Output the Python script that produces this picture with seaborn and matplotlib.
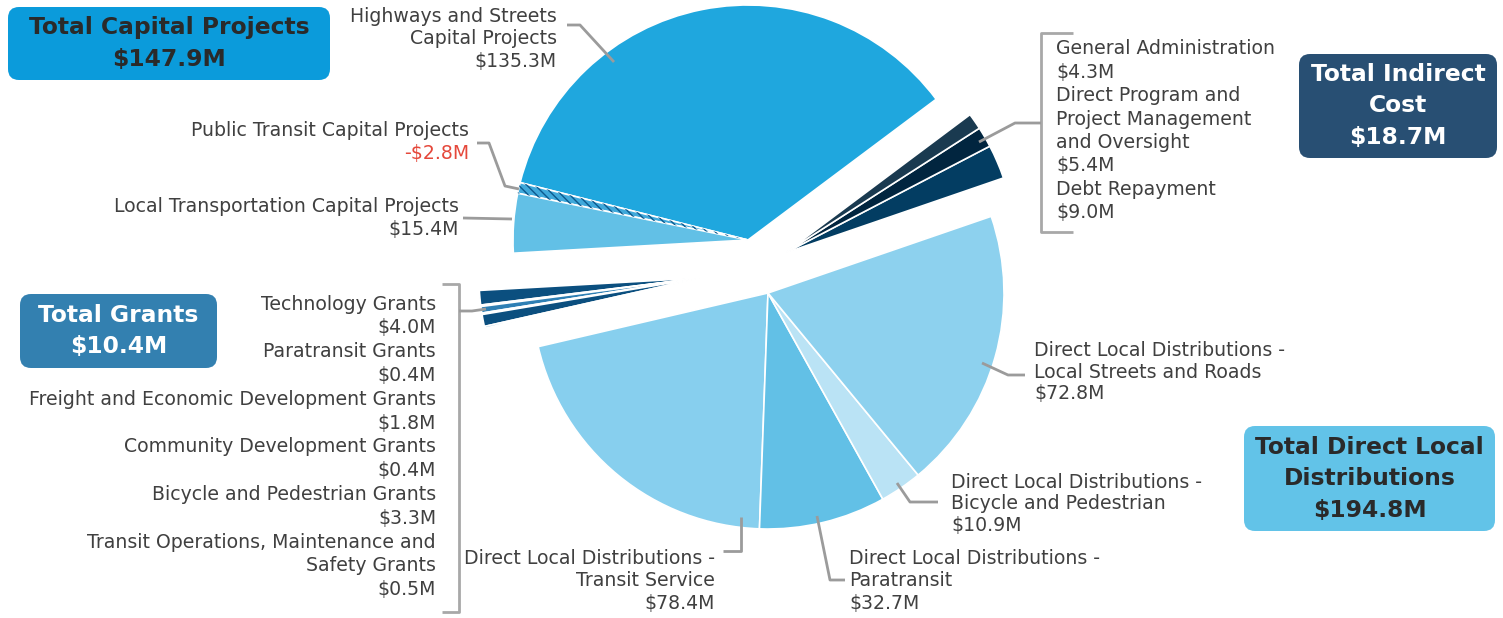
import numpy as np
import matplotlib
matplotlib.use("Agg")
import matplotlib.pyplot as plt
from matplotlib.patches import FancyBboxPatch, Wedge
import seaborn as sns

# ---------------- data ----------------
capital_names = ["Highways and Streets\nCapital Projects",
                 "Public Transit Capital Projects",
                 "Local Transportation Capital Projects"]
capital_values = [135.3, -2.8, 15.4]

grant_names = ["Technology Grants", "Paratransit Grants",
               "Freight and Economic Development Grants",
               "Community Development Grants",
               "Bicycle and Pedestrian Grants",
               "Transit Operations, Maintenance and\nSafety Grants"]
grant_values = [4.0, 0.4, 1.8, 0.4, 3.3, 0.5]

dld_names = ["Direct Local Distributions -\nTransit Service",
             "Direct Local Distributions -\nParatransit",
             "Direct Local Distributions -\nBicycle and Pedestrian",
             "Direct Local Distributions -\nLocal Streets and Roads"]
dld_values = [78.4, 32.7, 10.9, 72.8]

indirect_names = ["Debt Repayment",
                  "Direct Program and\nProject Management\nand Oversight",
                  "General Administration"]
indirect_values = [9.0, 5.4, 4.3]

group_titles = ["Total Capital Projects", "Total Grants",
                "Total Direct Local\nDistributions", "Total Indirect\nCost"]
group_totals = [147.9, 10.4, 194.8, 18.7]

# ---------------- style ----------------
sns.set_theme(style="white")
plt.rcParams['font.family'] = ['DejaVu Sans']
TXT = "#404040"
LEAD = "#9b9b9b"
RED = "#e5483b"
LBL_SIZE = 13.6
BOX_SIZE = 16.8

W, H = 1503, 618
fig = plt.figure(figsize=(W / 100, H / 100), dpi=100)
ax = fig.add_axes([0, 0, 1, 1])


def P(x, y):
    return (x, H - y)


def money(v):
    return ("-" if v < 0 else "") + "${:.1f}M".format(abs(v))


groups = [
    (capital_values, ["#1fa7de", "#3fa9db", "#62c0e6"], (748, 240), 235),
    (grant_values, ["#0b4f7f", "#2e7fb4", "#2e7fb4", "#0b4f7f", "#0b4f7f", "#2e7fb4"], (700, 278), 221),
    (dld_values, ["#87cfee", "#62c0e6", "#bae3f5", "#8dd1ee"], (768, 293), 236),
    (indirect_values, ["#033d62", "#01253f", "#1a3a50"], (785, 253), 231),
]
all_abs = np.abs(np.concatenate([np.array(g[0], float) for g in groups]))
total_abs = all_abs.sum()
start0 = 36.8
cum = 0.0
wedges_by_group = []
for vals, cols, (cx, cy), r in groups:
    v = np.abs(np.array(vals, float))
    fr = v / total_abs
    st = start0 + 360.0 * cum / total_abs
    wd, _ = ax.pie(fr, colors=cols, startangle=st, counterclock=True,
                   radius=r, center=P(cx, cy), normalize=False, frame=True,
                   wedgeprops=dict(edgecolor="white", linewidth=1.2))
    wedges_by_group.append(wd)
    cum += v.sum()

# hatch for negative slice
for w, val in zip(wedges_by_group[0], capital_values):
    if val < 0:
        h = Wedge(w.center, w.r, w.theta1, w.theta2, facecolor="none",
                  edgecolor="#0d5a8e", hatch="\\\\\\\\", linewidth=0)
        ax.add_patch(h)
        w.set_zorder(1)
        h.set_zorder(1.5)


# ---------------- labels ----------------
def lines_at(lines, x, y0, step, ha, colors=None, size=LBL_SIZE):
    for i, ln in enumerate(lines):
        c = TXT if colors is None else colors[i]
        ax.text(*P(x, y0 + i * step), ln, ha=ha, va="center",
                fontsize=size, color=c)


def leader(pts, color=LEAD, lw=2):
    xs = [p[0] for p in pts]
    ys = [H - p[1] for p in pts]
    ax.plot(xs, ys, color=color, lw=lw, solid_capstyle="butt", zorder=3)


# capital
lines_at(capital_names[0].split("\n") + [money(capital_values[0])], 557, 17, 22, "right")
leader([(567, 25), (580, 25), (614, 62)])
lines_at([capital_names[1], money(capital_values[1])], 469, 131, 23, "right",
         colors=[TXT, RED])
leader([(477, 143), (489, 143), (505, 186), (519, 189)])
lines_at([capital_names[2], money(capital_values[2])], 459, 207, 22, "right")
leader([(463, 218), (512, 219)])

# grants column
glines = []
for n, v in zip(grant_names, grant_values):
    glines += n.split("\n") + [money(v)]
lines_at(glines, 436, 304, 23.8, "right")
leader([(442, 284), (459, 284), (459, 612), (442, 612)], color="#a8a8a8")
leader([(459, 311), (472, 311), (486, 309)])

# indirect column (top to bottom: reversed order)
ilines = []
for n, v in zip(indirect_names[::-1], indirect_values[::-1]):
    ilines += n.split("\n") + [money(v)]
lines_at(ilines, 1056, 49, 23.4, "left")
leader([(1073, 33), (1041, 33), (1041, 232), (1073, 232)], color="#a8a8a8")
leader([(1041, 123), (1015, 123), (979, 142)])

# direct local distributions
lines_at(dld_names[3].split("\n") + [money(dld_values[3])], 1034, 350, 22, "left")
leader([(982, 363), (1008, 375), (1025, 375)])
lines_at(dld_names[2].split("\n") + [money(dld_values[2])], 951, 482, 21.5, "left")
leader([(897, 483), (910, 502), (938, 502)])
lines_at(dld_names[0].split("\n") + [money(dld_values[0])], 715, 559, 22, "right")
leader([(741, 517), (741, 551), (723, 551)])
lines_at(dld_names[1].split("\n") + [money(dld_values[1])], 849, 559, 22, "left")
leader([(817, 516), (830, 580), (845, 580)])

# ---------------- total boxes ----------------
boxes = [
    (group_titles[0], group_totals[0], (8, 7, 330, 80), "#0b9bdb", "#2a2a2a"),
    (group_titles[1], group_totals[1], (20, 294, 217, 368), "#3380b0", "white"),
    (group_titles[2], group_totals[2], (1244, 426, 1495, 531), "#62c3e8", "#2a2a2a"),
    (group_titles[3], group_totals[3], (1299, 54, 1497, 158), "#284f73", "white"),
]
for title, tot, (x0, y0, x1, y1), fc, tc in boxes:
    ax.add_patch(FancyBboxPatch((x0, H - y1), x1 - x0, y1 - y0,
                                boxstyle="round,pad=0,rounding_size=11",
                                facecolor=fc, edgecolor="none", zorder=2))
    tl = title.split("\n") + [money(tot)]
    n = len(tl)
    step = 31.5
    cy = (y0 + y1) / 2
    for i, ln in enumerate(tl):
        yy = cy + (i - (n - 1) / 2) * step
        ax.text(*P((x0 + x1) / 2, yy), ln, ha="center", va="center",
                fontsize=BOX_SIZE, fontweight="bold", color=tc, zorder=3)

ax.set_xlim(0, W)
ax.set_ylim(0, H)
ax.set_aspect("equal")
ax.axis("off")
fig.savefig("out.png", dpi=100, facecolor="white")
